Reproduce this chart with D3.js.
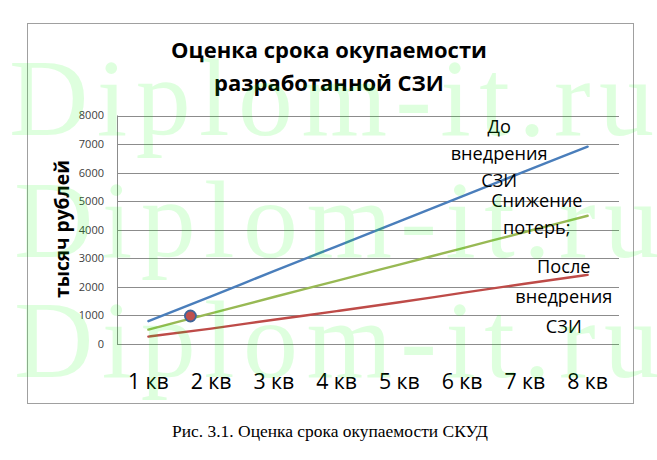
<!DOCTYPE html>
<html><head><meta charset="utf-8">
<script src="https://cdn.jsdelivr.net/npm/d3@7"></script>
<style>body{margin:0;background:#fff}svg{display:block}</style>
</head><body>
<svg id="c" width="657" height="460"></svg>
<script>
// ---- data ----
const quarters = ["1 кв","2 кв","3 кв","4 кв","5 кв","6 кв","7 кв","8 кв"];
const before = [800, 1670, 2550, 3420, 4290, 5170, 6040, 6910];      // До внедрения СЗИ
const reduction = [505, 1075, 1645, 2210, 2780, 3350, 3920, 4490];   // Снижение потерь
const after = [260, 540, 850, 1150, 1460, 1790, 2110, 2420];         // После внедрения СЗИ
const yTicks = [0, 1000, 2000, 3000, 4000, 5000, 6000, 7000, 8000];
const titleLines = ["Оценка срока окупаемости", "разработанной СЗИ"];
const yTitle = "тысяч рублей";
const caption = "Рис. 3.1. Оценка срока окупаемости СКУД";
const seriesLabels = [
  {lines:["До","внедрения","СЗИ"], q:6.59, v:7608},
  {lines:["Снижение","потерь;"], q:7.19, v:5042},
  {lines:["После","внедрения","СЗИ"], q:7.62, v:2707}
];
const marker = [{q:1.67, v:980}];
const watermark = "Diplom-it.ru";

// ---- layout ----
const svg = d3.select("#c");
const L = 117, R = 619, T = 115.5, B = 344;
const x = d3.scaleLinear().domain([0.5, 8.5]).range([L, R]);
const y = d3.scaleLinear().domain([0, 8000]).range([B, T]);
const font = "'Open Sans', 'DejaVu Sans', sans-serif";

function fit(sel, target) {
  const w = sel.node().getComputedTextLength();
  const fs = parseFloat(sel.attr("font-size"));
  sel.attr("font-size", (fs * target / w).toFixed(2));
}

svg.append("rect").attr("width",657).attr("height",460).attr("fill","#fff");
// chart frame
svg.append("rect").attr("x",27.5).attr("y",23.5).attr("width",606).attr("height",380)
  .attr("fill","#fff").attr("stroke","#a0a0a0").attr("stroke-width",1);

// watermark (light, behind the chart content)
const wm = svg.append("g");

// gridlines
svg.append("g").selectAll("line").data(yTicks).join("line")
  .attr("x1",L).attr("x2",R)
  .attr("y1",d=>Math.round(y(d))+0.5).attr("y2",d=>Math.round(y(d))+0.5)
  .attr("stroke","#8c8c8c").attr("stroke-width",1);
svg.append("line").attr("x1",L+0.5).attr("x2",L+0.5).attr("y1",y(8000)).attr("y2",y(0))
  .attr("stroke","#8c8c8c");

// y tick labels
svg.append("g").selectAll("text").data(yTicks).join("text")
  .attr("x",104).attr("y",d=>y(d)).attr("dy","0.36em")
  .attr("text-anchor","end").attr("font-family",font).attr("font-size",11)
  .attr("fill","#404040").text(d=>d);

// x labels
const xl = svg.append("g").selectAll("text").data(quarters).join("text")
  .attr("x",(d,i)=>x(i+1)).attr("y",381).attr("dy","0.36em")
  .attr("text-anchor","middle").attr("font-family",font).attr("font-size",18)
  .attr("fill","#000").text(d=>d);
{ const w = xl.nodes()[0].getComputedTextLength(); xl.attr("font-size", (18*41/w).toFixed(2)); }

// title
const tl = svg.append("g").selectAll("text").data(titleLines).join("text")
  .attr("x",329).attr("y",(d,i)=>[58,91][i])
  .attr("text-anchor","middle").attr("font-family",font).attr("font-weight","bold")
  .attr("font-size",19).attr("fill","#000").text(d=>d);
{ const w = tl.nodes()[0].getComputedTextLength(); tl.attr("font-size",(19*316/w).toFixed(2)); }

// y title
const yt = svg.append("text").attr("transform","translate(62,229) rotate(-90)")
  .attr("text-anchor","middle").attr("dy","0.36em").attr("font-family",font)
  .attr("font-weight","bold").attr("font-size",15).attr("fill","#000").text(yTitle);
fit(yt, 138);

// lines
const line = d3.line().x((d,i)=>x(i+1)).y(d=>y(d)).curve(d3.curveMonotoneX);
const series = [
  {data: before, color:"#4a7ebb"},
  {data: reduction, color:"#98b954"},
  {data: after, color:"#be4b48"}
];
svg.append("g").selectAll("path").data(series).join("path")
  .attr("d",d=>line(d.data)).attr("fill","none").attr("stroke",d=>d.color)
  .attr("stroke-width",2.4).attr("stroke-linecap","round");

// marker
svg.append("g").selectAll("circle").data(marker).join("circle")
  .attr("cx",d=>x(d.q)).attr("cy",d=>y(d.v)).attr("r",5.5)
  .attr("fill","#c0504d").attr("stroke","#3f6599").attr("stroke-width",1.8);

// series labels
const lblSize = 16;
const lg = svg.append("g");
seriesLabels.forEach((s,k)=>{
  const lh = [27, 27.3, 29.7][k];
  s.lines.forEach((t,j)=>{
    lg.append("text").attr("x",x(s.q)).attr("y",y(s.v)+j*lh).attr("dy","0.36em")
      .attr("text-anchor","middle").attr("font-family",font).attr("font-size",lblSize)
      .attr("fill","#000").text(t);
  });
});
{ const n = lg.selectAll("text").nodes()[1]; const w = n.getComputedTextLength();
  lg.selectAll("text").attr("font-size",(lblSize*97/w).toFixed(2)); }

// caption
const cap = svg.append("text").attr("x",330).attr("y",437).attr("text-anchor","middle")
  .attr("font-family","'Liberation Serif','Times New Roman',serif").attr("font-size",16)
  .attr("fill","#000").text(caption);
fit(cap, 316);

// watermark overlay (semi-transparent so lines show through tinted)
svg.append("g").selectAll("text").data([[9,135],[14,257],[14,377]]).join("text")
  .attr("x",d=>d[0]).attr("y",d=>d[1])
  .attr("font-family","'Liberation Serif','Times New Roman',serif").attr("font-size",110)
  .attr("textLength",645).attr("lengthAdjust","spacing")
  .attr("fill","#00ff00").attr("fill-opacity",0.13).text(watermark);
</script>
</body></html>
